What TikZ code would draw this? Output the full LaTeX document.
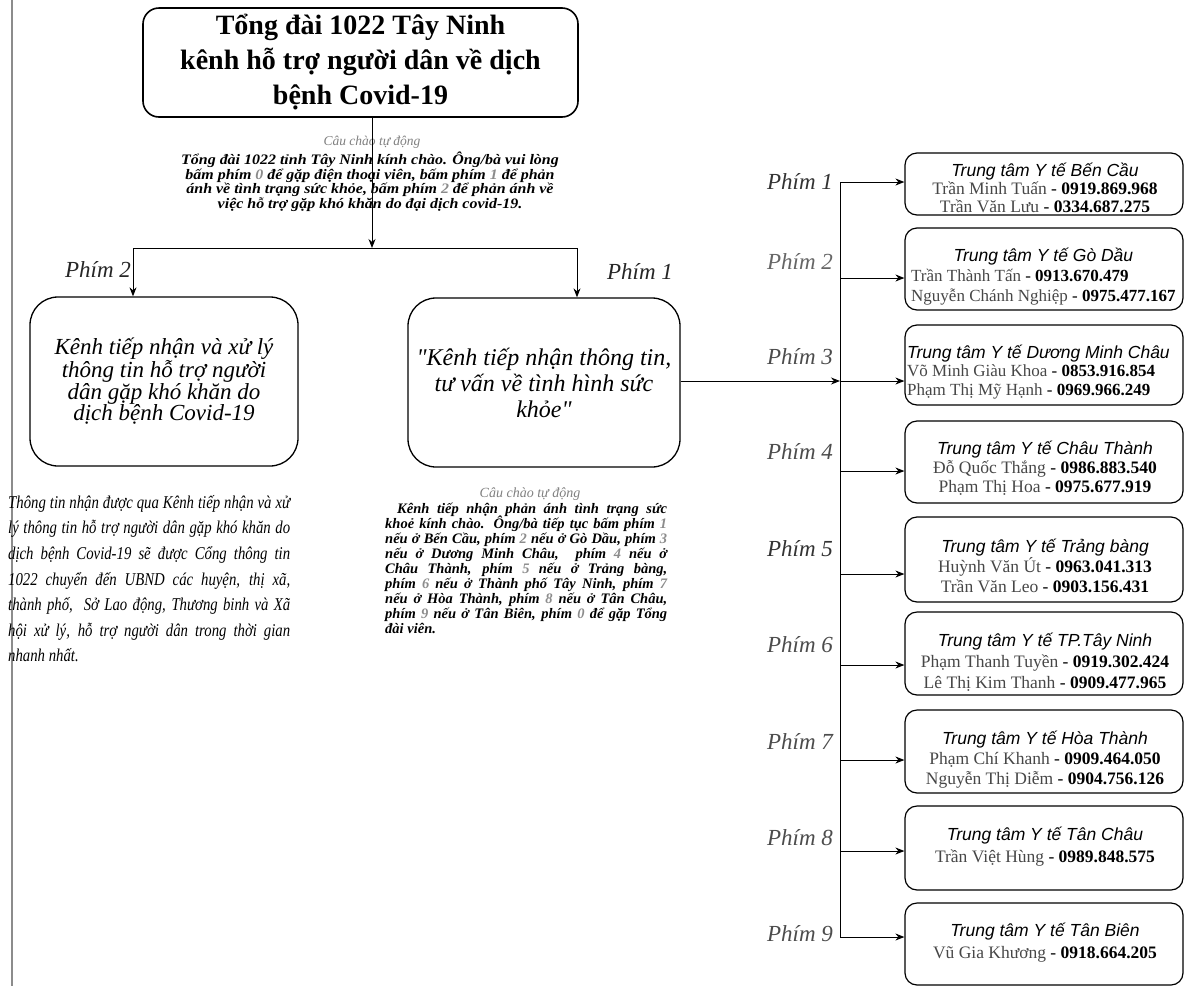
\documentclass[tikz,border=0pt]{standalone}
\usepackage{fontspec}
\setmainfont{Liberation Serif}
\setsansfont{Liberation Sans}
\newfontfamily\condserif{Liberation Serif}[FakeStretch=0.82]
\newfontfamily\wideserif{Liberation Serif}[FakeStretch=1.1]
\newfontfamily\qserif{Liberation Serif}[Ligatures=TeXOff]
\usetikzlibrary{arrows.meta}
\newcommand\lgd[1]{{\color{black!45}#1}}
\newcommand\sq{{\qserif\itshape\char"22}}
\newcommand\ttl[1]{{\sffamily\itshape\fontsize{17.5}{19}\selectfont #1}}
\newcommand\nm[1]{{\color{black!72}#1}}
\newcommand\tightlines{\lineskiplimit=-20pt\lineskip=0pt}
\begin{document}
\begin{tikzpicture}[x=1pt,y=-1pt,
  bigbox/.style={draw, line width=1.6pt, rounded corners=16pt, minimum width=435pt, minimum height=109pt, inner sep=0pt},
  chbox/.style={draw, line width=1.3pt, rounded corners=28pt, inner sep=0pt},
  rbox/.style={draw, line width=1.2pt, rounded corners=12pt, minimum width=278pt, inner sep=0pt},
  rtext/.style={inner sep=0pt, font=\fontsize{17.5}{19}\selectfont, align=center},
  phim/.style={inner sep=0pt, font=\itshape\fontsize{23}{26}\selectfont, text=black!80},
  arr/.style={line width=1pt, -{Stealth[length=9pt,width=7pt]}},
  conn/.style={line width=1pt}]
\useasboundingbox (0,0) rectangle (1187,986);
\fill[white] (0,0) rectangle (1187,986);
% scan edge line
\draw[black!45, line width=1.3pt] (12,0) -- (12,986);

% top box
\node[bigbox, align=center, font=\bfseries\fontsize{28}{35}\selectfont] (top) at (360.5,62.5)
  {Tổng đài 1022 Tây Ninh\\kênh hỗ trợ người dân về dịch\\bệnh Covid-19};

% greeting
\node[inner sep=0pt, font=\itshape\fontsize{13.5}{14}\selectfont, text=black!50] (cc1) at (372,142) {Câu chào tự động};
\node[anchor=north, inner sep=0pt, align=center, font=\wideserif\bfseries\itshape\fontsize{14.5}{14.6}\selectfont\tightlines] (greet) at (370,152)
  {Tổng đài 1022 tỉnh Tây Ninh kính chào. Ông/bà vui lòng\\
   bấm phím \lgd{0} để gặp điện thoại viên, bấm phím \lgd{1} để phản\\
   ánh về tình trạng sức khỏe, bấm phím \lgd{2} để phản ánh về\\
   việc hỗ trợ gặp khó khăn do đại dịch covid-19.};

% branch junctions
\coordinate (jm) at (372,248);
\coordinate (jl) at (133,248);
\coordinate (jr) at (577,248);

% channel boxes
\node[chbox, minimum width=268pt, minimum height=169pt, align=center, font=\itshape\fontsize{23}{21.5}\selectfont] (left) at (164,381.5)
  {Kênh tiếp nhận và xử lý\\thông tin hỗ trợ người\\dân gặp khó khăn do\\dịch bệnh Covid-19};
\node[chbox, minimum width=272pt, minimum height=169pt, align=center, font=\itshape\fontsize{24}{26}\selectfont] (mid) at (544,382.5)
  {\sq Kênh tiếp nhận thông tin,\\tư vấn về tình hình sức\\khỏe\sq};

\draw[arr] (top.south -| jm) -- (jm);
\draw[conn] (jl) -- (jr);
\draw[arr] (jl) -- (jl |- left.north);
\draw[arr] (jr) -- (jr |- mid.north);

\node[phim, text=black!85] (p2) at (98,270) {Phím 2};
\node[phim, text=black!85] (p1) at (640,272) {Phím 1};

% left paragraph
\node[anchor=north west, inner sep=0pt, text width=282pt, align=justify, font=\condserif\itshape\fontsize{18}{25.6}\selectfont] (lpara) at (8,495)
  {Thông tin nhận được qua Kênh tiếp nhận và xử\linebreak
   lý thông tin hỗ trợ người dân gặp khó khăn do\linebreak
   dịch bệnh Covid-19 sẽ được Cổng thông tin\linebreak
   1022 chuyển đến UBND các huyện, thị xã,\linebreak
   thành phố,~ Sở Lao động, Thương binh và Xã\linebreak
   hội xử lý, hỗ trợ người dân trong thời gian\linebreak
   nhanh nhất.};

% middle paragraph
\node[inner sep=0pt, font=\itshape\fontsize{14}{14}\selectfont, text=black!50] (cc2) at (530,494) {Câu chào tự động};
\node[anchor=north west, inner sep=0pt, text width=282pt, align=justify, font=\bfseries\itshape\fontsize{14.5}{15}\selectfont\tightlines] (mpara) at (385,503)
  {\hspace*{12pt}Kênh tiếp nhận phản ánh tình trạng sức\linebreak
   khoẻ kính chào. Ông/bà tiếp tục bấm phím \lgd{1}\linebreak
   nếu ở Bến Cầu, phím \lgd{2} nếu ở Gò Dầu, phím \lgd{3}\linebreak
   nếu ở Dương Minh Châu,~ phím \lgd{4} nếu ở\linebreak
   Châu Thành, phím \lgd{5} nếu ở Trảng bàng,\linebreak
   phím \lgd{6} nếu ở Thành phố Tây Ninh, phím \lgd{7}\linebreak
   nếu ở Hòa Thành, phím \lgd{8} nếu ở Tân Châu,\linebreak
   phím \lgd{9} nếu ở Tân Biên, phím \lgd{0} để gặp Tổng\linebreak
   đài viên.};

% right column boxes
\node[rbox, minimum height=62pt] (r1) at (1044,184) {};
\node[rbox, minimum height=82pt] (r2) at (1044,269) {};
\node[rbox, minimum height=80pt] (r3) at (1044,365) {};
\node[rbox, minimum height=82pt] (r4) at (1044,462) {};
\node[rbox, minimum height=85pt] (r5) at (1044,559.5) {};
\node[rbox, minimum height=83pt] (r6) at (1044,653.5) {};
\node[rbox, minimum height=83pt] (r7) at (1044,751.5) {};
\node[rbox, minimum height=84pt] (r8) at (1044,848) {};
\node[rbox, minimum height=82pt] (r9) at (1044,944) {};

\node[rtext, font=\fontsize{17.5}{18.3}\selectfont] (t1) at (1045,188) {\ttl{Trung tâm Y tế Bến Cầu}\\\nm{Trần Minh Tuấn} - \textbf{0919.869.968}\\\nm{Trần Văn Lưu} - \textbf{0334.687.275}};
\node[rtext, anchor=west, font=\fontsize{17}{20}\selectfont] (t2) at (911,277) {\begin{tabular}{@{}l@{}}\multicolumn{1}{@{}c@{}}{\ttl{Trung tâm Y tế Gò Dầu}}\\\nm{Trần Thành Tấn} - \textbf{0913.670.479}\\\nm{Nguyễn Chánh Nghiệp} - \textbf{0975.477.167}\end{tabular}};
\node[rtext, anchor=west, font=\fontsize{17}{18.5}\selectfont] (t3) at (907,373) {\begin{tabular}{@{}l@{}}\multicolumn{1}{@{}c@{}}{\ttl{Trung tâm Y tế Dương Minh Châu}}\\\nm{Võ Minh Giàu Khoa} - \textbf{0853.916.854}\\\nm{Phạm Thị Mỹ Hạnh} - \textbf{0969.966.249}\end{tabular}};
\node[rtext] (t4) at (1045,468) {\ttl{Trung tâm Y tế Châu Thành}\\\nm{Đỗ Quốc Thắng} - \textbf{0986.883.540}\\\nm{Phạm Thị Hoa} - \textbf{0975.677.919}};
\node[rtext, font=\fontsize{17.5}{20}\selectfont] (t5) at (1045,566) {\ttl{Trung tâm Y tế Trảng bàng}\\\nm{Huỳnh Văn Út} - \textbf{0963.041.313}\\\nm{Trần Văn Leo} - \textbf{0903.156.431}};
\node[rtext, font=\fontsize{17.5}{21}\selectfont] (t6) at (1045,662) {\ttl{Trung tâm Y tế TP.Tây Ninh}\\\nm{Phạm Thanh Tuyền} - \textbf{0919.302.424}\\\nm{Lê Thị Kim Thanh} - \textbf{0909.477.965}};
\node[rtext, font=\fontsize{17.5}{20}\selectfont] (t7) at (1045,760) {\ttl{Trung tâm Y tế Hòa Thành}\\\nm{Phạm Chí Khanh} - \textbf{0909.464.050}\\\nm{Nguyễn Thị Diễm} - \textbf{0904.756.126}};
\node[rtext, font=\fontsize{17.5}{22}\selectfont] (t8) at (1045,847) {\ttl{Trung tâm Y tế Tân Châu}\\\nm{Trần Việt Hùng} - \textbf{0989.848.575}};
\node[rtext, font=\fontsize{17.5}{22}\selectfont] (t9) at (1045,943) {\ttl{Trung tâm Y tế Tân Biên}\\\nm{Vũ Gia Khương} - \textbf{0918.664.205}};

% bus
\coordinate (b1) at (840,182);
\coordinate (b2) at (840,278);
\coordinate (b3) at (840,381);
\coordinate (b4) at (840,471);
\coordinate (b5) at (840,574);
\coordinate (b6) at (840,665);
\coordinate (b7) at (840,760);
\coordinate (b8) at (840,851);
\coordinate (b9) at (840,937);
\draw[conn] (b1) -- (b9);
\draw[arr] (mid.east |- b3) -- (b3);
\foreach \i in {1,...,9} \draw[arr] (b\i) -- (b\i -| r\i.west);

% phim labels right
\node[phim] (q1) at (800,182) {Phím 1};
\node[phim, text=black!60] (q2) at (800,262) {Phím 2};
\node[phim, text=black!70] (q3) at (800,357) {Phím 3};
\node[phim, text=black!70] (q4) at (800,452) {Phím 4};
\node[phim] (q5) at (800,549) {Phím 5};
\node[phim, text=black!70] (q6) at (800,645) {Phím 6};
\node[phim, text=black!70] (q7) at (800,741) {Phím 7};
\node[phim, text=black!70] (q8) at (800,838) {Phím 8};
\node[phim, text=black!70] (q9) at (800,934) {Phím 9};
\end{tikzpicture}
\end{document}
